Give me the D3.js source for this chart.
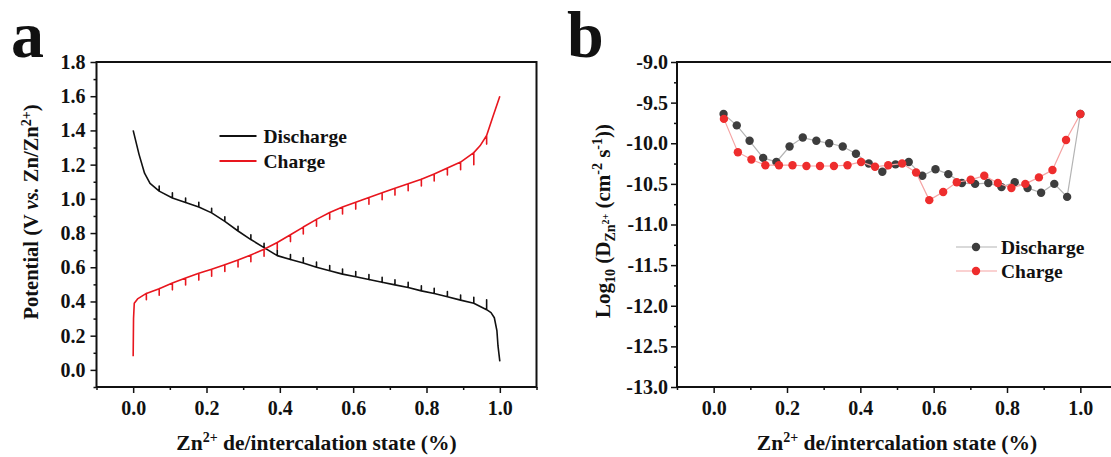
<!DOCTYPE html>
<html>
<head>
<meta charset="utf-8">
<script src="https://cdn.jsdelivr.net/npm/d3@7"></script>
<style>
body { margin: 0; background: #fff; }
svg text { font-family: "Liberation Serif", "Times New Roman", serif; font-weight: bold; fill: #111; }
</style>
</head>
<body>
<script>
//Panel a: GITT potential profiles (x = state, V = potential, relax = relaxed potential at each titration step)
var dischargeX = [0.000, 0.016, 0.031, 0.046, 0.071, 0.107, 0.143, 0.179, 0.214, 0.250, 0.286, 0.321, 0.357, 0.393, 0.429, 0.464, 0.500, 0.536, 0.571, 0.607, 0.643, 0.679, 0.714, 0.750, 0.786, 0.821, 0.857, 0.893, 0.929, 0.964, 0.976, 0.985, 0.992, 0.995, 1.000];
var dischargeV = [1.400, 1.260, 1.150, 1.090, 1.045, 1.005, 0.978, 0.952, 0.918, 0.868, 0.812, 0.762, 0.715, 0.668, 0.645, 0.625, 0.600, 0.580, 0.560, 0.545, 0.528, 0.512, 0.497, 0.482, 0.462, 0.447, 0.428, 0.408, 0.390, 0.352, 0.335, 0.305, 0.230, 0.140, 0.050];
var dischargeRelax = [null, null, null, null, 1.075, 1.035, 1.005, 0.980, 0.945, 0.895, 0.840, 0.790, 0.740, 0.700, 0.675, 0.655, 0.630, 0.610, 0.590, 0.575, 0.558, 0.542, 0.527, 0.512, 0.492, 0.477, 0.458, 0.438, 0.425, 0.410, null, null, null, null, null];

var chargeX = [0.000, 0.001, 0.003, 0.012, 0.036, 0.071, 0.107, 0.143, 0.179, 0.214, 0.250, 0.286, 0.321, 0.357, 0.393, 0.429, 0.464, 0.500, 0.536, 0.571, 0.607, 0.643, 0.679, 0.714, 0.750, 0.786, 0.821, 0.857, 0.893, 0.929, 0.946, 0.964, 0.981, 1.000];
var chargeV = [0.080, 0.300, 0.390, 0.415, 0.447, 0.475, 0.508, 0.537, 0.565, 0.588, 0.615, 0.642, 0.672, 0.705, 0.745, 0.790, 0.835, 0.880, 0.920, 0.952, 0.980, 1.008, 1.035, 1.062, 1.088, 1.115, 1.145, 1.180, 1.215, 1.270, 1.310, 1.370, 1.480, 1.600];
var chargeRelax = [null, null, null, null, 0.410, 0.437, 0.468, 0.497, 0.525, 0.548, 0.575, 0.602, 0.632, 0.665, 0.705, 0.750, 0.795, 0.840, 0.880, 0.912, 0.940, 0.968, 0.995, 1.022, 1.048, 1.075, 1.105, 1.140, 1.170, 1.200, null, 1.320, null, null];

//Panel b: log10 of diffusion coefficient
var dDischargeX = [0.027, 0.063, 0.098, 0.135, 0.171, 0.207, 0.243, 0.280, 0.315, 0.352, 0.388, 0.423, 0.460, 0.496, 0.532, 0.569, 0.605, 0.640, 0.677, 0.713, 0.749, 0.785, 0.821, 0.856, 0.893, 0.929, 0.964, 1.000];
var dDischargeY = [-9.64, -9.78, -9.97, -10.18, -10.23, -10.04, -9.93, -9.97, -10.00, -10.04, -10.13, -10.25, -10.35, -10.26, -10.23, -10.40, -10.32, -10.38, -10.49, -10.50, -10.49, -10.54, -10.48, -10.55, -10.61, -10.50, -10.66, -9.64];
var dChargeX = [0.028, 0.066, 0.103, 0.141, 0.178, 0.215, 0.253, 0.290, 0.328, 0.365, 0.402, 0.440, 0.476, 0.514, 0.552, 0.588, 0.626, 0.663, 0.701, 0.738, 0.775, 0.812, 0.850, 0.887, 0.924, 0.961, 1.000];
var dChargeY = [-9.70, -10.11, -10.20, -10.27, -10.27, -10.27, -10.28, -10.28, -10.28, -10.27, -10.23, -10.29, -10.27, -10.25, -10.36, -10.70, -10.60, -10.48, -10.45, -10.40, -10.49, -10.55, -10.50, -10.42, -10.33, -9.96, -9.64];

//Ticks
var xMajor = [0, 0.2, 0.4, 0.6, 0.8, 1.0];
var xMinor = [-0.1, 0.1, 0.3, 0.5, 0.7, 0.9, 1.1];
var yMajorA = [0, 0.2, 0.4, 0.6, 0.8, 1.0, 1.2, 1.4, 1.6, 1.8];
var yMinorA = [-0.1, 0.1, 0.3, 0.5, 0.7, 0.9, 1.1, 1.3, 1.5, 1.7];
var yMajorB = [-13, -12.5, -12, -11.5, -11, -10.5, -10, -9.5, -9];
var yMinorB = [-12.75, -12.25, -11.75, -11.25, -10.75, -10.25, -9.75, -9.25];

var seriesNames = ["Discharge", "Charge"];

var W = 1111, H = 457;
var plotW = 440, plotH = 325, plotTop = 62;
var serif = "'Liberation Serif', 'Times New Roman', serif";

var svg = d3.select("body")
            .append("svg")
            .attr("width", W)
            .attr("height", H);

//Write text made of styled pieces (super/subscripts)
function rich(sel, parts) {
    parts.forEach(function(p) {
        var t = sel.append("tspan").text(p.t);
        if (p.dy) t.attr("dy", p.dy);
        if (p.size) t.attr("font-size", p.size);
        if (p.italic) t.attr("font-style", "italic");
    });
}

function drawAxes(g, x, y, yMajor, yMinor, yFmt, yPad) {
    var fmt = function(d) { return d.toFixed(1); };
    var axes = g.append("g").attr("font-family", serif);
    axes.append("g")
        .attr("transform", "translate(0," + plotH + ")")
        .call(d3.axisBottom(x).tickValues(xMajor).tickSize(6).tickPadding(8).tickFormat(fmt));
    axes.append("g")
        .attr("transform", "translate(0," + plotH + ")")
        .call(d3.axisBottom(x).tickValues(xMinor).tickSize(3).tickFormat(""));
    axes.append("g")
        .call(d3.axisLeft(y).tickValues(yMajor).tickSize(6).tickPadding(yPad).tickFormat(yFmt));
    axes.append("g")
        .call(d3.axisLeft(y).tickValues(yMinor).tickSize(3).tickFormat(""));

    axes.selectAll(".domain").remove();
    axes.selectAll("g").attr("font-family", serif);
    axes.selectAll(".tick line").attr("stroke", "#111").attr("stroke-width", 1.5);
    axes.selectAll(".tick text")
        .attr("font-size", 20)
        .attr("fill", "#111");

    g.append("rect")
        .attr("width", plotW)
        .attr("height", plotH)
        .attr("fill", "none")
        .attr("stroke", "#111")
        .attr("stroke-width", 2);
}

function xTitle(g) {
    var t = g.append("text")
        .attr("x", plotW / 2)
        .attr("y", plotH + 63)
        .attr("text-anchor", "middle")
        .attr("font-size", 21.5);
    rich(t, [
        {t: "Zn"},
        {t: "2+", dy: -8, size: 14},
        {t: " de/intercalation state (%)", dy: 8}
    ]);
}

//---------------- Panel a ----------------
var ga = svg.append("g").attr("transform", "translate(96.5," + plotTop + ")");

var xa = d3.scaleLinear().domain([-0.1, 1.1]).range([0, plotW]);
var ya = d3.scaleLinear().domain([-0.1, 1.8]).range([plotH, 0]);

//Build path: at every titration step, jump to the relaxed potential and back
function gittPoints(xs, vs, rs) {
    var pts = [];
    xs.forEach(function(xv, i) {
        pts.push([xv, vs[i]]);
        if (rs[i] !== null) {
            pts.push([xv, rs[i]]);
            pts.push([xv, vs[i]]);
        }
    });
    return pts;
}

var lineA = d3.line()
    .x(function(d) { return xa(d[0]); })
    .y(function(d) { return ya(d[1]); });

ga.append("path")
    .attr("d", lineA(gittPoints(dischargeX, dischargeV, dischargeRelax)))
    .attr("fill", "none")
    .attr("stroke", "#111")
    .attr("stroke-width", 1.6)
    .attr("stroke-linejoin", "round");

ga.append("path")
    .attr("d", lineA(gittPoints(chargeX, chargeV, chargeRelax)))
    .attr("fill", "none")
    .attr("stroke", "#e8161e")
    .attr("stroke-width", 1.6)
    .attr("stroke-linejoin", "round");

drawAxes(ga, xa, ya, yMajorA, yMinorA, function(d) { return d.toFixed(1); }, 5);
xTitle(ga);

//Legend a
var legA = ga.append("g").attr("transform", "translate(123,74)");
["#111", "#e8161e"].forEach(function(c, i) {
    legA.append("line")
        .attr("x1", 0).attr("x2", 37)
        .attr("y1", i * 25).attr("y2", i * 25)
        .attr("stroke", c)
        .attr("stroke-width", 2);
    legA.append("text")
        .attr("x", 44)
        .attr("y", i * 25)
        .attr("dy", "0.35em")
        .attr("font-size", 19.5)
        .text(seriesNames[i]);
});

//Y title a
var yta = svg.append("text")
    .attr("transform", "translate(38,212) rotate(-90)")
    .attr("text-anchor", "middle")
    .attr("font-size", 20.5);
rich(yta, [
    {t: "Potential (V "},
    {t: "vs.", italic: true},
    {t: " Zn/Zn"},
    {t: "2+", dy: -7, size: 14},
    {t: ")", dy: 7}
]);

//Panel label a
svg.append("text")
    .attr("x", 11)
    .attr("y", 57)
    .attr("font-size", 66)
    .text("a");

//---------------- Panel b ----------------
var gb = svg.append("g").attr("transform", "translate(677," + plotTop + ")");

var xb = d3.scaleLinear().domain([-0.1, 1.1]).range([0, plotW]);
var yb = d3.scaleLinear().domain([-13, -9]).range([plotH, 0]);

var lineB = d3.line()
    .x(function(d) { return xb(d[0]); })
    .y(function(d) { return yb(d[1]); });

var seriesB = [
    {x: dDischargeX, y: dDischargeY, line: "#b4b4b4", dot: "#3d3d3d"},
    {x: dChargeX, y: dChargeY, line: "#f5a3a3", dot: "#ee2d2d"}
];

seriesB.forEach(function(s) {
    var pts = s.x.map(function(v, i) { return [v, s.y[i]]; });
    gb.append("path")
        .attr("d", lineB(pts))
        .attr("fill", "none")
        .attr("stroke", s.line)
        .attr("stroke-width", 1.2);
    gb.selectAll(null)
        .data(pts)
        .enter()
        .append("circle")
        .attr("cx", function(d) { return xb(d[0]); })
        .attr("cy", function(d) { return yb(d[1]); })
        .attr("r", 4.2)
        .attr("fill", s.dot);
});

drawAxes(gb, xb, yb, yMajorB, yMinorB, function(d) { return d.toFixed(1); }, 3);
xTitle(gb);

//Legend b
var legB = gb.append("g").attr("transform", "translate(279,185)");
seriesB.forEach(function(s, i) {
    legB.append("line")
        .attr("x1", 0).attr("x2", 41)
        .attr("y1", i * 24).attr("y2", i * 24)
        .attr("stroke", s.line)
        .attr("stroke-width", 1.2);
    legB.append("circle")
        .attr("cx", 20)
        .attr("cy", i * 24)
        .attr("r", 4.2)
        .attr("fill", s.dot);
    legB.append("text")
        .attr("x", 45)
        .attr("y", i * 24)
        .attr("dy", "0.35em")
        .attr("font-size", 19.5)
        .text(seriesNames[i]);
});

//Y title b
var ytb = svg.append("text")
    .attr("transform", "translate(610,221) rotate(-90)")
    .attr("text-anchor", "middle")
    .attr("font-size", 21);
rich(ytb, [
    {t: "Log"},
    {t: "10", dy: 5, size: 14},
    {t: " (D", dy: -5},
    {t: "Zn", dy: 5, size: 14},
    {t: "2+", dy: -6, size: 10},
    {t: " (cm", dy: 1},
    {t: "-2", dy: -8, size: 14},
    {t: " s", dy: 8},
    {t: "-1", dy: -8, size: 14},
    {t: "))", dy: 8}
]);

//Panel label b
svg.append("text")
    .attr("x", 567)
    .attr("y", 57)
    .attr("font-size", 66)
    .text("b");
</script>
</body>
</html>
